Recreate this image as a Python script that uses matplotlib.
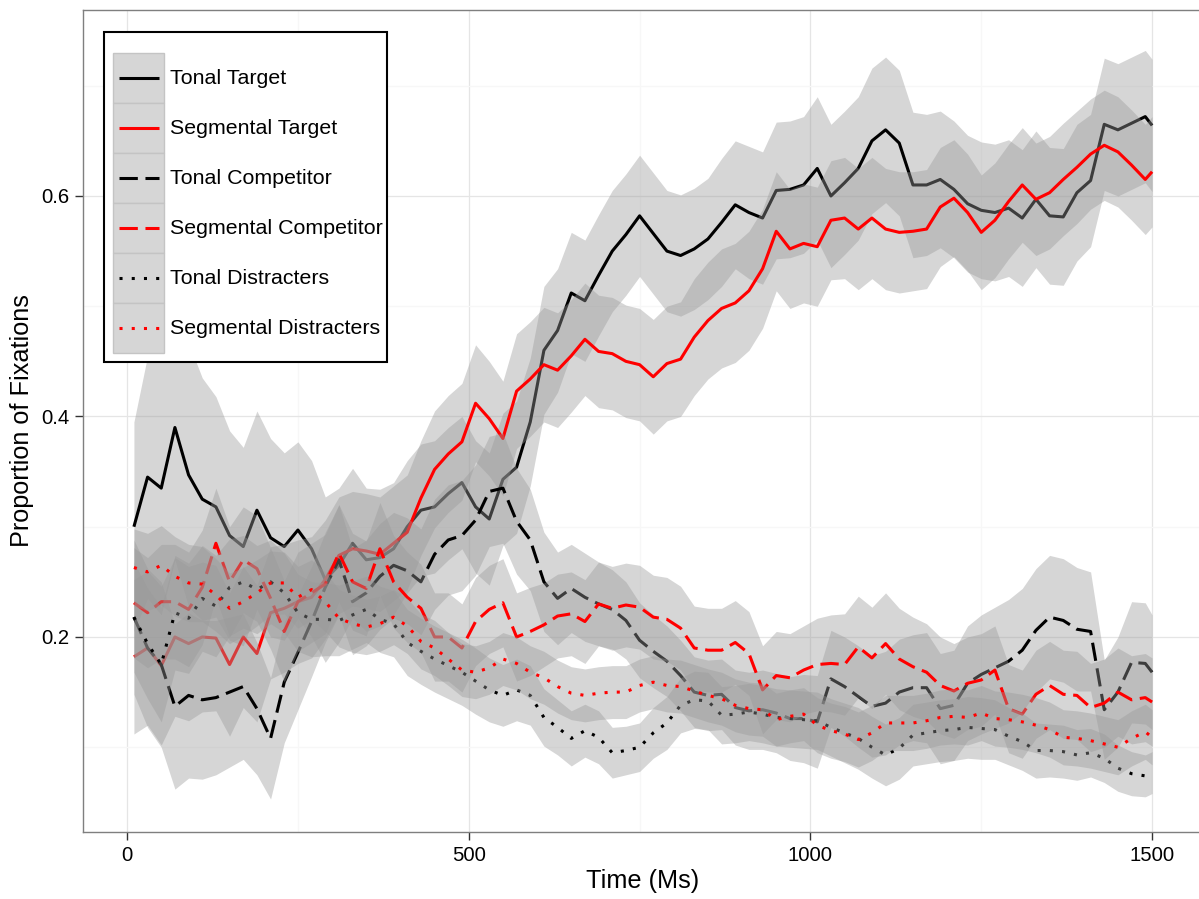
import numpy as np
import matplotlib
matplotlib.use("Agg")
import matplotlib.pyplot as plt
from matplotlib.patches import Rectangle
from matplotlib.lines import Line2D

plt.rcParams['font.family'] = ['Liberation Sans', 'DejaVu Sans']

# time bins (ms)
times = np.append(np.arange(10, 1500, 20), 1500)

# mean proportion of fixations per condition
tonal_target = [
    0.300, 0.345, 0.335, 0.390, 0.347, 0.325, 0.318, 0.292, 0.282, 0.315,
    0.290, 0.282, 0.297, 0.280, 0.252, 0.265, 0.285, 0.270, 0.272, 0.280,
    0.300, 0.315, 0.318, 0.330, 0.340, 0.318, 0.307, 0.343, 0.354, 0.395,
    0.460, 0.478, 0.512, 0.505, 0.528, 0.550, 0.565, 0.582, 0.566, 0.550,
    0.546, 0.552, 0.561, 0.576, 0.592, 0.585, 0.580, 0.605, 0.606, 0.610,
    0.625, 0.600, 0.612, 0.625, 0.650, 0.660, 0.648, 0.610, 0.610, 0.615,
    0.606, 0.593, 0.587, 0.585, 0.589, 0.580, 0.597, 0.582, 0.581, 0.603,
    0.614, 0.665, 0.660, 0.666, 0.672, 0.664]
segmental_target = [
    0.182, 0.190, 0.174, 0.200, 0.194, 0.200, 0.199, 0.175, 0.200, 0.185,
    0.222, 0.226, 0.232, 0.236, 0.252, 0.274, 0.280, 0.278, 0.275, 0.285,
    0.295, 0.326, 0.352, 0.366, 0.377, 0.412, 0.398, 0.380, 0.423, 0.434,
    0.447, 0.442, 0.455, 0.470, 0.459, 0.457, 0.450, 0.447, 0.436, 0.448,
    0.452, 0.472, 0.487, 0.498, 0.503, 0.514, 0.534, 0.568, 0.552, 0.557,
    0.554, 0.578, 0.580, 0.570, 0.580, 0.570, 0.567, 0.568, 0.570, 0.590,
    0.598, 0.585, 0.567, 0.578, 0.595, 0.610, 0.597, 0.603, 0.615, 0.626,
    0.638, 0.646, 0.640, 0.628, 0.615, 0.622]
tonal_competitor = [
    0.218, 0.190, 0.175, 0.137, 0.147, 0.143, 0.145, 0.150, 0.155, 0.135,
    0.108, 0.159, 0.186, 0.214, 0.245, 0.270, 0.232, 0.240, 0.255, 0.265,
    0.260, 0.250, 0.275, 0.288, 0.292, 0.306, 0.332, 0.335, 0.305, 0.288,
    0.250, 0.235, 0.244, 0.236, 0.230, 0.225, 0.215, 0.197, 0.187, 0.178,
    0.165, 0.150, 0.147, 0.148, 0.136, 0.133, 0.134, 0.131, 0.126, 0.126,
    0.123, 0.162, 0.155, 0.146, 0.137, 0.140, 0.150, 0.154, 0.154, 0.135,
    0.138, 0.158, 0.166, 0.172, 0.178, 0.188, 0.206, 0.218, 0.215, 0.207,
    0.205, 0.134, 0.150, 0.177, 0.176, 0.168]
segmental_competitor = [
    0.231, 0.222, 0.232, 0.232, 0.225, 0.245, 0.285, 0.250, 0.270, 0.262,
    0.235, 0.205, 0.232, 0.240, 0.248, 0.276, 0.250, 0.244, 0.280, 0.250,
    0.236, 0.226, 0.200, 0.200, 0.190, 0.214, 0.225, 0.231, 0.200, 0.205,
    0.211, 0.219, 0.221, 0.214, 0.230, 0.226, 0.229, 0.227, 0.218, 0.216,
    0.208, 0.190, 0.188, 0.188, 0.195, 0.185, 0.152, 0.165, 0.163, 0.170,
    0.175, 0.176, 0.175, 0.191, 0.181, 0.194, 0.180, 0.173, 0.168, 0.156,
    0.151, 0.158, 0.161, 0.170, 0.135, 0.130, 0.148, 0.156, 0.148, 0.147,
    0.136, 0.140, 0.150, 0.143, 0.145, 0.141]
tonal_distracters = [
    0.218, 0.194, 0.175, 0.222, 0.217, 0.235, 0.228, 0.245, 0.250, 0.243,
    0.250, 0.240, 0.222, 0.216, 0.216, 0.215, 0.220, 0.225, 0.216, 0.212,
    0.195, 0.187, 0.180, 0.174, 0.168, 0.160, 0.152, 0.147, 0.152, 0.147,
    0.127, 0.118, 0.108, 0.115, 0.109, 0.095, 0.097, 0.100, 0.113, 0.122,
    0.138, 0.143, 0.142, 0.129, 0.130, 0.132, 0.130, 0.127, 0.126, 0.125,
    0.124, 0.118, 0.113, 0.108, 0.100, 0.093, 0.099, 0.111, 0.113, 0.115,
    0.116, 0.118, 0.117, 0.116, 0.110, 0.105, 0.097, 0.097, 0.096, 0.093,
    0.095, 0.090, 0.081, 0.076, 0.074, 0.077]
segmental_distracters = [
    0.263, 0.259, 0.265, 0.255, 0.249, 0.248, 0.238, 0.226, 0.232, 0.240,
    0.249, 0.249, 0.236, 0.243, 0.232, 0.217, 0.212, 0.209, 0.212, 0.218,
    0.210, 0.196, 0.190, 0.180, 0.170, 0.168, 0.172, 0.180, 0.176, 0.168,
    0.163, 0.155, 0.149, 0.147, 0.149, 0.150, 0.150, 0.156, 0.159, 0.156,
    0.155, 0.151, 0.147, 0.144, 0.138, 0.135, 0.134, 0.125, 0.128, 0.130,
    0.120, 0.115, 0.112, 0.107, 0.113, 0.122, 0.122, 0.122, 0.124, 0.127,
    0.128, 0.127, 0.131, 0.126, 0.125, 0.123, 0.120, 0.116, 0.109, 0.108,
    0.106, 0.103, 0.100, 0.108, 0.114, 0.109]

# standard errors (ribbon half-widths)
tonal_target_se = [
    0.095, 0.110, 0.115, 0.120, 0.120, 0.110, 0.100, 0.095, 0.090, 0.090,
    0.090, 0.085, 0.080, 0.080, 0.075, 0.070, 0.068, 0.065, 0.062, 0.060,
    0.060, 0.060, 0.060, 0.060, 0.060, 0.060, 0.060, 0.060, 0.060, 0.058,
    0.058, 0.056, 0.055, 0.055, 0.055, 0.055, 0.055, 0.055, 0.055, 0.055,
    0.055, 0.055, 0.055, 0.058, 0.058, 0.060, 0.060, 0.062, 0.062, 0.062,
    0.065, 0.065, 0.065, 0.065, 0.066, 0.066, 0.066, 0.066, 0.064, 0.062,
    0.062, 0.062, 0.062, 0.062, 0.062, 0.062, 0.062, 0.062, 0.062, 0.062,
    0.060, 0.060, 0.060, 0.060, 0.060, 0.060]
segmental_target_se = [
    0.070, 0.070, 0.072, 0.072, 0.070, 0.068, 0.066, 0.065, 0.064, 0.062,
    0.060, 0.058, 0.056, 0.055, 0.054, 0.053, 0.052, 0.052, 0.052, 0.052,
    0.052, 0.052, 0.053, 0.053, 0.053, 0.053, 0.052, 0.052, 0.052, 0.052,
    0.052, 0.052, 0.051, 0.051, 0.051, 0.051, 0.051, 0.051, 0.052, 0.052,
    0.052, 0.053, 0.053, 0.054, 0.054, 0.054, 0.054, 0.054, 0.054, 0.054,
    0.054, 0.054, 0.055, 0.055, 0.055, 0.055, 0.055, 0.054, 0.054, 0.054,
    0.053, 0.053, 0.052, 0.052, 0.052, 0.052, 0.051, 0.051, 0.051, 0.051,
    0.050, 0.050, 0.050, 0.050, 0.050, 0.050]
tonal_competitor_se = [
    0.070, 0.072, 0.075, 0.075, 0.075, 0.072, 0.070, 0.068, 0.066, 0.060,
    0.055, 0.055, 0.052, 0.050, 0.050, 0.050, 0.048, 0.048, 0.048, 0.048,
    0.048, 0.048, 0.050, 0.050, 0.050, 0.050, 0.050, 0.050, 0.048, 0.046,
    0.045, 0.042, 0.040, 0.040, 0.038, 0.036, 0.035, 0.034, 0.033, 0.032,
    0.032, 0.032, 0.032, 0.032, 0.034, 0.035, 0.036, 0.036, 0.038, 0.040,
    0.042, 0.044, 0.045, 0.046, 0.046, 0.047, 0.048, 0.048, 0.050, 0.050,
    0.050, 0.052, 0.054, 0.055, 0.056, 0.056, 0.056, 0.056, 0.056, 0.056,
    0.054, 0.045, 0.050, 0.055, 0.055, 0.052]
segmental_competitor_se = [
    0.050, 0.050, 0.052, 0.052, 0.052, 0.052, 0.050, 0.050, 0.048, 0.048,
    0.046, 0.046, 0.045, 0.045, 0.045, 0.044, 0.044, 0.043, 0.042, 0.042,
    0.041, 0.040, 0.040, 0.040, 0.040, 0.040, 0.040, 0.040, 0.040, 0.040,
    0.038, 0.038, 0.038, 0.038, 0.038, 0.038, 0.038, 0.038, 0.038, 0.038,
    0.038, 0.038, 0.038, 0.038, 0.038, 0.038, 0.040, 0.040, 0.040, 0.040,
    0.042, 0.044, 0.046, 0.046, 0.046, 0.046, 0.046, 0.045, 0.044, 0.044,
    0.043, 0.042, 0.042, 0.040, 0.040, 0.040, 0.040, 0.040, 0.040, 0.040,
    0.040, 0.040, 0.040, 0.040, 0.040, 0.040]
tonal_distracters_se = [
    0.050, 0.050, 0.052, 0.052, 0.050, 0.048, 0.046, 0.044, 0.042, 0.040,
    0.038, 0.036, 0.035, 0.034, 0.033, 0.032, 0.031, 0.030, 0.030, 0.030,
    0.030, 0.030, 0.030, 0.030, 0.030, 0.030, 0.029, 0.028, 0.028, 0.027,
    0.026, 0.025, 0.025, 0.024, 0.024, 0.023, 0.022, 0.022, 0.023, 0.024,
    0.025, 0.026, 0.026, 0.026, 0.026, 0.026, 0.026, 0.026, 0.026, 0.026,
    0.026, 0.026, 0.027, 0.028, 0.028, 0.028, 0.028, 0.028, 0.028, 0.028,
    0.028, 0.028, 0.028, 0.027, 0.026, 0.026, 0.025, 0.024, 0.024, 0.023,
    0.022, 0.022, 0.021, 0.020, 0.019, 0.019]
segmental_distracters_se = [
    0.035, 0.035, 0.036, 0.036, 0.035, 0.034, 0.033, 0.032, 0.031, 0.030,
    0.029, 0.028, 0.028, 0.027, 0.027, 0.026, 0.026, 0.025, 0.025, 0.025,
    0.025, 0.025, 0.025, 0.024, 0.024, 0.024, 0.024, 0.024, 0.024, 0.024,
    0.024, 0.024, 0.024, 0.024, 0.024, 0.024, 0.024, 0.024, 0.024, 0.024,
    0.024, 0.024, 0.024, 0.024, 0.024, 0.024, 0.024, 0.024, 0.024, 0.024,
    0.025, 0.025, 0.025, 0.025, 0.025, 0.025, 0.025, 0.025, 0.025, 0.025,
    0.025, 0.025, 0.025, 0.025, 0.025, 0.025, 0.025, 0.025, 0.025, 0.025,
    0.025, 0.025, 0.025, 0.025, 0.025, 0.025]

labels = ['Tonal Target', 'Segmental Target', 'Tonal Competitor',
          'Segmental Competitor', 'Tonal Distracters', 'Segmental Distracters']
means = [tonal_target, segmental_target, tonal_competitor,
         segmental_competitor, tonal_distracters, segmental_distracters]
errors = [tonal_target_se, segmental_target_se, tonal_competitor_se,
          segmental_competitor_se, tonal_distracters_se, segmental_distracters_se]
colors = ['black', 'red', 'black', 'red', 'black', 'red']
dashes = [None, None, (6, 2.5), (6, 2.5), (1, 3), (1, 3)]

W, H = 1199, 899
fig = plt.figure(figsize=(W / 100, H / 100), dpi=100)
ax = fig.add_axes([83 / W, (H - 832) / H, (1203 - 83) / W, (832 - 10) / H])

LW = 2.2
RIBBON = '#999999'

# ribbon then line for each group, later groups drawn on top
for i, (lab, m, se, c, d) in enumerate(zip(labels, means, errors, colors, dashes)):
    m = np.array(m)
    se = np.array(se)
    ax.fill_between(times, m - se, m + se, color=RIBBON, alpha=0.4,
                    linewidth=0, zorder=2 + 2 * i)
    line, = ax.plot(times, m, color=c, lw=LW, zorder=3 + 2 * i,
                    solid_capstyle='butt', dash_capstyle='butt')
    if d is not None:
        line.set_dashes(d)

ax.set_xlim(-64.5, 1574.5)
ax.set_ylim(0.0231, 0.7687)
ax.set_xticks([0, 500, 1000, 1500])
ax.set_xticks([250, 750, 1250], minor=True)
ax.set_yticks([0.2, 0.4, 0.6])
ax.set_yticklabels(['0.2', '0.4', '0.6'])
ax.set_yticks([0.1, 0.3, 0.5, 0.7], minor=True)
ax.grid(which='major', color='#E5E5E5', lw=0.9, zorder=0)
ax.grid(which='minor', color='#F7F7F7', lw=0.9, zorder=0)
ax.set_axisbelow(True)
ax.tick_params(which='major', length=6, width=1.0, color='#333333',
               labelsize=14.6, labelcolor='black', pad=4)
ax.tick_params(which='minor', length=0)
for sp in ax.spines.values():
    sp.set_color('#7F7F7F')
    sp.set_linewidth(1.0)

fig.text(643 / W, 1 - 881 / H, 'Time (Ms)', ha='center', va='center', fontsize=18.2)
fig.text(22 / W, 1 - 421 / H, 'Proportion of Fixations', ha='center',
         va='center', rotation=90, fontsize=18.2)


# legend drawn in figure pixel coordinates
def fx(px):
    return px / W


def fy(py):
    return 1 - py / H


fig.patches.append(Rectangle((fx(104), fy(362)), fx(387) - fx(104), fy(32) - fy(362),
                             transform=fig.transFigure, facecolor='white',
                             edgecolor='black', lw=1.5, zorder=20))
for i, (lab, c, d) in enumerate(zip(labels, colors, dashes)):
    top = 53 + 50 * i
    fig.patches.append(Rectangle((fx(113), fy(top + 50)), fx(164) - fx(113),
                                 fy(top) - fy(top + 50), transform=fig.transFigure,
                                 facecolor='#D6D6D6', edgecolor='#C4C4C4',
                                 lw=1.0, zorder=21))
    yc = fy(top + 25)
    ln = Line2D([fx(119), fx(159)], [yc, yc], transform=fig.transFigure,
                color=c, lw=LW, zorder=22, solid_capstyle='butt',
                dash_capstyle='butt')
    if d is not None:
        ln.set_dashes(d)
    fig.lines.append(ln)
    fig.text(fx(170), yc, lab, ha='left', va='center', fontsize=15.4, zorder=23)

fig.savefig('out.png', dpi=100)
